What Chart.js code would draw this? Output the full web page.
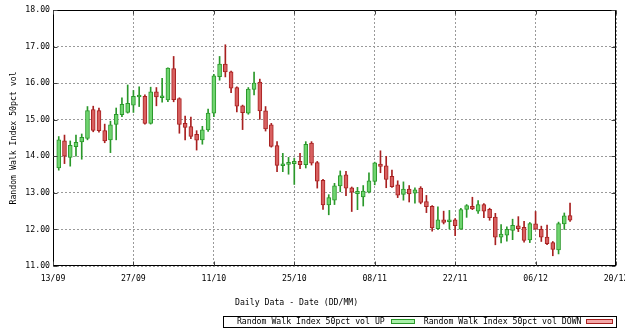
<!DOCTYPE html>
<html>
<head>
<meta charset="utf-8">
<script src="https://cdn.jsdelivr.net/npm/chart.js@4/dist/chart.umd.min.js"></script>
<style>
	html, body { margin: 0; padding: 0; background: #fff; }
	#wrap { width: 625px; height: 336px; }
</style>
</head>
<body>
<div id="wrap"><canvas id="chart" width="625" height="336"></canvas></div>
<script>
// Random Walk Index candles, one per day starting 14/09

const xTickLabels = ["13/09", "27/09", "11/10", "25/10", "08/11", "22/11", "06/12", "20/12"];
const yTitle = "Random Walk Index 50pct vol";
const xTitle = "Daily Data - Date (DD/MM)";
const upLabel = "Random Walk Index 50pct vol UP";
const downLabel = "Random Walk Index 50pct vol DOWN";

const openVals = [
	13.68, 14.42, 13.97, 14.26, 14.39, 14.49, 15.28, 15.25, 14.7, 14.45,
	14.87, 15.14, 15.2, 15.4, 15.62, 15.64, 14.9, 15.76, 15.6, 15.54,
	16.4, 15.58, 14.9, 14.81, 14.6, 14.45, 14.72, 15.18, 16.18, 16.52,
	16.31, 15.88, 15.38, 15.18, 15.83, 16.03, 15.24, 14.86, 14.29, 13.74,
	13.78, 13.8, 13.86, 13.77, 14.36, 13.83, 13.34, 12.67, 12.8, 13.19,
	13.49, 13.14, 12.98, 12.89, 13.02, 13.31, 13.79, 13.74, 13.45, 13.22,
	12.96, 13.1, 12.99, 13.13, 12.76, 12.63, 12.02, 12.26, 12.21, 12.26,
	12.01, 12.55, 12.63, 12.5, 12.68, 12.55, 12.34, 11.79, 11.84, 11.97,
	12.1, 12.06, 11.71, 12.15, 12.0, 11.79, 11.64, 11.44, 12.15, 12.38,
];
const highVals = [
	14.54, 14.58, 14.42, 14.58, 14.61, 15.36, 15.37, 15.32, 14.88, 14.96,
	15.32, 15.6, 15.95, 15.8, 15.9, 15.68, 15.89, 15.88, 16.13, 16.42,
	16.73, 15.6, 15.1, 15.07, 14.7, 14.82, 15.29, 16.24, 16.73, 17.05,
	16.33, 15.9, 15.4, 15.88, 16.3, 16.11, 15.36, 14.9, 14.4, 14.08,
	13.97, 13.95, 14.08, 14.4, 14.4, 13.86, 13.37, 12.95, 13.26, 13.6,
	13.59, 13.16, 13.15, 13.2, 13.55, 13.84, 14.15, 14.0, 13.62, 13.33,
	13.3, 13.2, 13.14, 13.17, 12.93, 12.65, 12.62, 12.5, 12.52, 12.3,
	12.58, 12.68, 12.88, 12.79, 12.71, 12.58, 12.44, 12.13, 12.07, 12.28,
	12.35, 12.22, 12.19, 12.49, 12.09, 12.12, 11.67, 12.2, 12.45, 12.72,
];
const lowVals = [
	13.62, 13.8, 13.73, 14.0, 13.92, 14.45, 14.67, 14.66, 14.37, 14.1,
	14.45, 15.08, 15.18, 15.2, 15.36, 14.88, 14.88, 15.38, 15.48, 15.49,
	15.49, 14.63, 14.45, 14.48, 14.17, 14.33, 14.68, 15.08, 16.08, 16.17,
	15.74, 15.21, 14.73, 15.15, 15.68, 15.01, 14.69, 14.25, 13.58, 13.58,
	13.51, 13.23, 13.66, 13.68, 13.76, 13.13, 12.55, 12.4, 12.68, 13.03,
	12.92, 12.49, 12.54, 12.64, 13.0, 13.22, 13.55, 13.14, 13.15, 12.87,
	12.8, 12.75, 12.72, 12.7, 12.46, 11.95, 12.0, 12.15, 12.01, 11.83,
	12.0, 12.33, 12.54, 12.44, 12.32, 12.25, 11.58, 11.63, 11.68, 11.72,
	11.94, 11.65, 11.64, 12.0, 11.67, 11.58, 11.28, 11.33, 12.0, 12.22,
];
const closeVals = [
	14.45, 14.0, 14.3, 14.38, 14.52, 15.25, 14.71, 14.7, 14.42, 14.86,
	15.15, 15.42, 15.45, 15.64, 15.66, 14.9, 15.76, 15.62, 15.64, 16.41,
	15.55, 14.87, 14.79, 14.54, 14.44, 14.72, 15.18, 16.2, 16.52, 16.31,
	15.86, 15.37, 15.19, 15.84, 16.0, 15.24, 14.75, 14.27, 13.75, 13.79,
	13.83, 13.86, 13.77, 14.33, 13.81, 13.32, 12.67, 12.87, 13.19, 13.47,
	13.13, 13.02, 13.04, 13.05, 13.33, 13.82, 13.72, 13.37, 13.17, 12.94,
	13.1, 12.97, 13.08, 12.74, 12.62, 12.04, 12.26, 12.19, 12.26, 12.1,
	12.54, 12.65, 12.56, 12.68, 12.5, 12.32, 11.79, 11.87, 12.0, 12.11,
	12.02, 11.7, 12.16, 12.01, 11.79, 11.61, 11.45, 12.16, 12.37, 12.25,
];

const FONT = '"DejaVu Sans Mono", "Liberation Mono", monospace';
const FONT_SIZE = 8.2;
const UP_FILL = "#6fd46f";
const UP_LINE = "#2a982a";
const DOWN_FILL = "#d86060";
const DOWN_LINE = "#a82020";

function splitCandles(up) {
	const wick = [],
		body = [];
	openVals.forEach((o, i) => {
		const c = closeVals[i];
		if (c >= o !== up) return;
		wick.push({ x: i + 1, y: [lowVals[i], highVals[i]] });
		body.push({ x: i + 1, y: [Math.min(o, c), Math.max(o, c)] });
	});
	return { wick, body };
}

const upC = splitCandles(true);
const downC = splitCandles(false);

function bodySet(label, data, fill, line) {
	return {
		label: label,
		data: data,
		backgroundColor: fill,
		borderColor: line,
		borderWidth: 1,
		borderSkipped: false,
		barThickness: 4,
		minBarLength: 2,
		grouped: false,
		order: 1,
	};
}

function wickSet(data, line) {
	return {
		label: "",
		data: data,
		backgroundColor: line,
		borderWidth: 0,
		barThickness: 1,
		grouped: false,
		order: 2,
	};
}

// frame, inward ticks, titles and the boxed key, gnuplot style
const decorPlugin = {
	id: "decor",
	afterDraw(chart) {
		const { ctx, chartArea: a, scales } = chart;
		const L = Math.round(a.left) + 0.5,
			R = Math.round(a.right) - 0.5,
			T = Math.round(a.top) + 0.5,
			B = Math.round(a.bottom) - 0.5;
		ctx.save();
		ctx.strokeStyle = "#000";
		ctx.lineWidth = 1;
		ctx.strokeRect(L, T, R - L, B - T);

		ctx.strokeStyle = "#444";
		ctx.beginPath();
		scales.x.ticks.forEach((t) => {
			const px = Math.round(scales.x.getPixelForValue(t.value)) + 0.5;
			ctx.moveTo(px, B);
			ctx.lineTo(px, B - 4);
			ctx.moveTo(px, T);
			ctx.lineTo(px, T + 4);
		});
		scales.y.ticks.forEach((t) => {
			const py = Math.round(scales.y.getPixelForValue(t.value)) + 0.5;
			ctx.moveTo(L, py);
			ctx.lineTo(L + 4, py);
			ctx.moveTo(R, py);
			ctx.lineTo(R - 4, py);
		});
		ctx.stroke();

		ctx.fillStyle = "#000";
		ctx.font = FONT_SIZE + "px " + FONT;
		ctx.textBaseline = "middle";

		ctx.save();
		ctx.translate(13.5, (a.top + a.bottom) / 2);
		ctx.rotate(-Math.PI / 2);
		ctx.textAlign = "center";
		ctx.fillText(yTitle, 0, 0);
		ctx.restore();

		ctx.textAlign = "left";
		ctx.fillText(xTitle, 235, 303);

		// key: text then sample, right aligned to the plot edge
		const w1 = ctx.measureText(upLabel).width;
		const w2 = ctx.measureText(downLabel).width;
		const boxR = Math.round(a.right) + 0.5;
		const top = 316.5,
			bot = 327.5,
			midY = 322;
		const sw2R = boxR - 4,
			sw2L = sw2R - 27;
		const t2L = sw2L - 4 - w2;
		const sw1R = t2L - 9,
			sw1L = sw1R - 24;
		const t1L = sw1L - 6 - w1;
		const boxL = Math.round(t1L - 14) + 0.5;
		ctx.strokeStyle = "#000";
		ctx.strokeRect(boxL, top, boxR - boxL, bot - top);
		ctx.fillText(upLabel, t1L, midY);
		ctx.fillText(downLabel, t2L, midY);
		ctx.fillStyle = "#a8f0a8";
		ctx.fillRect(Math.round(sw1L), 319, 24, 5);
		ctx.strokeStyle = UP_LINE;
		ctx.strokeRect(Math.round(sw1L) + 0.5, 319.5, 23, 4);
		ctx.fillStyle = "#f4a8a8";
		ctx.fillRect(Math.round(sw2L), 319, 27, 5);
		ctx.strokeStyle = DOWN_LINE;
		ctx.strokeRect(Math.round(sw2L) + 0.5, 319.5, 26, 4);
		ctx.restore();
	},
};

const tickFont = { family: FONT, size: FONT_SIZE };

new Chart(document.getElementById("chart").getContext("2d"), {
	type: "bar",
	data: {
		datasets: [
			bodySet(upLabel, upC.body, UP_FILL, UP_LINE),
			bodySet(downLabel, downC.body, DOWN_FILL, DOWN_LINE),
			wickSet(upC.wick, UP_LINE),
			wickSet(downC.wick, DOWN_LINE),
		],
	},
	options: {
		responsive: false,
		animation: false,
		layout: { padding: { top: 10, right: 9, left: 0, bottom: 0 } },
		plugins: {
			legend: { display: false },
			tooltip: { enabled: false },
		},
		scales: {
			x: {
				type: "linear",
				min: 0,
				max: 98,
				offset: false,
				ticks: {
					stepSize: 14,
					autoSkip: false,
					maxRotation: 0,
					padding: 8,
					color: "#000",
					font: tickFont,
					callback: (v) => xTickLabels[Math.round(v / 14)],
				},
				grid: { offset: false, color: "#9a9a9a", drawTicks: false },
				border: { display: false, dash: [2, 2] },
				afterFit: (s) => {
					s.height = 70;
					s.paddingLeft = 0;
					s.paddingRight = 0;
				},
			},
			y: {
				min: 11,
				max: 18,
				ticks: {
					stepSize: 1,
					padding: 3,
					color: "#000",
					font: tickFont,
					callback: (v) => v.toFixed(2),
				},
				grid: { color: "#9a9a9a", drawTicks: false },
				border: { display: false, dash: [2, 2] },
				afterFit: (s) => {
					s.width = 53;
				},
			},
		},
	},
	plugins: [decorPlugin],
});
</script>
</body>
</html>
